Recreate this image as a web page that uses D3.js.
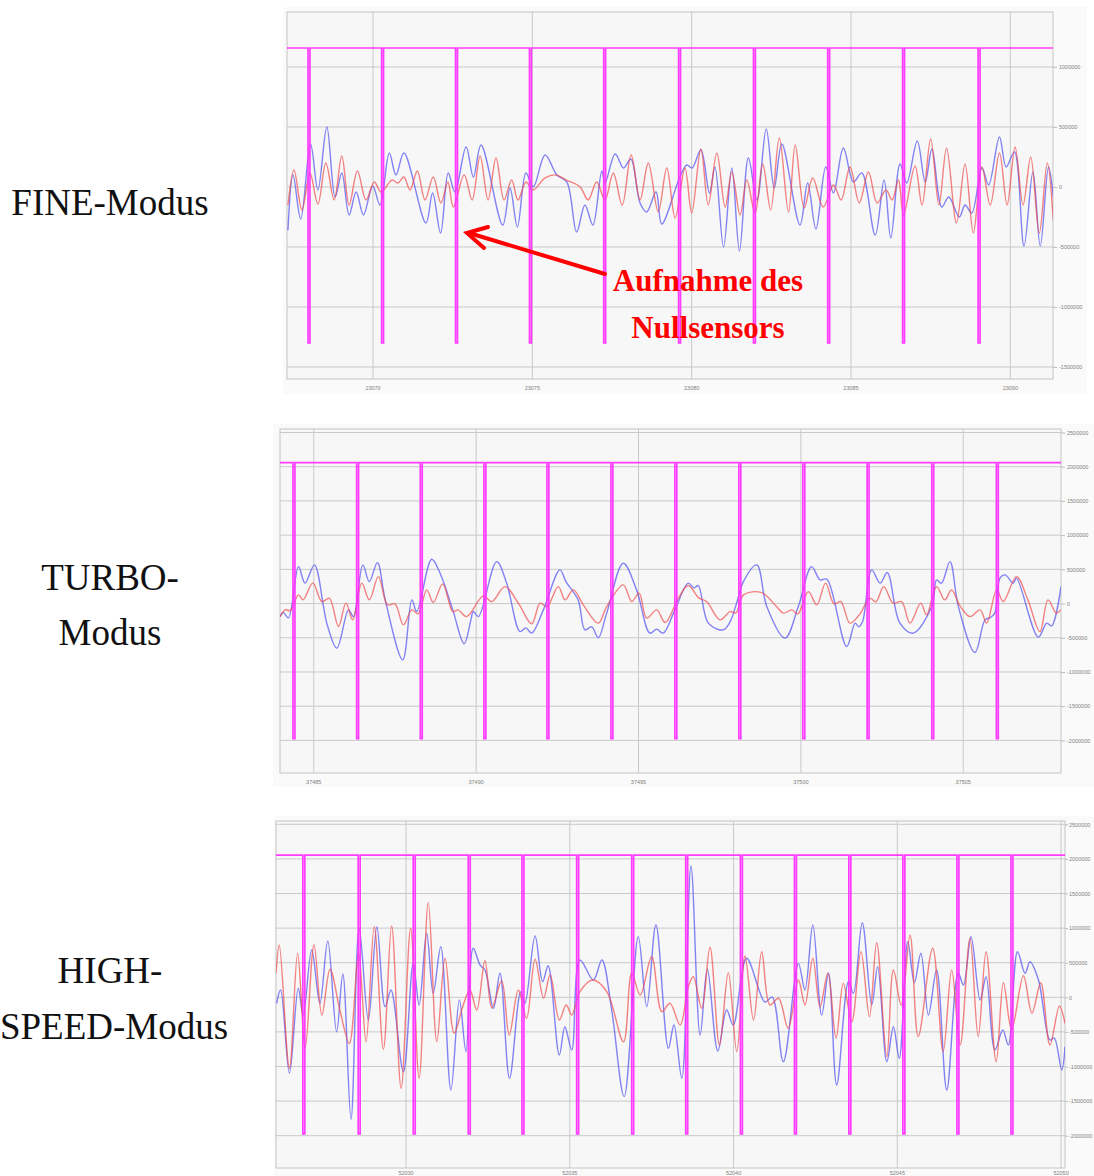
<!DOCTYPE html>
<html>
<head>
<meta charset="utf-8">
<script src="https://cdn.jsdelivr.net/npm/d3@7"></script>
<style>
  html, body { margin: 0; background: #fff; }
  svg { display: block; }
</style>
</head>
<body>
<div id="chart"></div>
<script>
// Oscilloscope captures of the zero sensor in three modes.
// Series are [seconds after t0, value / 1000]; pulses are the zero-sensor dips (seconds after t0).

const modeLabels = [['FINE-Modus'], ['TURBO-', 'Modus'], ['HIGH-', 'SPEED-Modus']];

// ---------- FINE ----------
const fineT0 = 23070;
const fineTicksX = [23070, 23075, 23080, 23085, 23090];
const fineTicksY = [-1500000, -1000000, -500000, 0, 500000, 1000000];
const finePulses = [-2.01, 0.30, 2.62, 4.94, 7.27, 9.62, 11.97, 14.30, 16.65, 19.02];
const fineLevels = [1158, -1300];
const fineBlue = [[-2.67,-360],[-2.51,100],[-2.27,-267],[-1.96,358],[-1.73,-25],[-1.45,500],[-1.19,-83],[-0.98,117],[-0.75,-233],[-0.53,-42],[-0.30,-233],[-0.01,8],[0.22,-150],[0.51,283],[0.72,100],[0.97,283],[1.66,-300],[1.87,-50],[2.12,-383],[2.36,117],[2.57,-42],[2.92,333],[3.15,83],[3.39,350],[4.07,-317],[4.30,-8],[4.53,-333],[4.80,117],[5.03,0],[5.40,267],[5.77,100],[6.08,42],[6.39,-375],[6.65,-150],[6.90,-317],[7.18,133],[7.28,33],[7.60,275],[7.86,158],[8.09,233],[8.38,-133],[8.59,-208],[8.88,-42],[9.06,-308],[9.63,83],[9.85,183],[10.01,158],[10.29,308],[10.56,-50],[10.73,167],[11.00,-500],[11.26,158],[11.50,-533],[11.78,242],[12.05,-108],[12.34,483],[12.59,-8],[12.83,358],[13.40,-317],[13.64,33],[13.90,-350],[14.21,167],[14.45,-50],[14.76,325],[15.08,42],[15.34,117],[15.76,-400],[16.04,58],[16.25,-425],[16.54,192],[16.75,33],[17.08,383],[17.33,42],[17.54,317],[17.85,-167],[18.07,-83],[18.40,-250],[18.58,-150],[18.79,-217],[19.11,158],[19.32,17],[19.66,417],[19.87,167],[20.13,292],[20.43,-492],[20.71,125],[20.94,-492],[21.20,167],[21.35,-83]];
const fineRed = [[-2.67,-150],[-2.48,142],[-2.23,-192],[-1.98,117],[-1.73,-142],[-1.48,200],[-1.22,-108],[-0.98,258],[-0.75,-150],[-0.49,133],[-0.22,-108],[0.04,42],[0.25,-42],[0.60,58],[0.78,33],[0.97,83],[1.16,-25],[1.39,133],[1.63,-108],[1.89,83],[2.13,-133],[2.35,42],[2.52,-167],[2.86,100],[3.11,-108],[3.36,258],[3.61,-108],[3.86,242],[4.11,-108],[4.35,58],[4.55,-108],[4.80,42],[5.02,-25],[5.40,75],[5.74,100],[6.06,58],[6.50,0],[6.75,-108],[7.02,42],[7.28,-108],[7.54,117],[7.82,-150],[8.10,267],[8.38,-108],[8.64,200],[8.95,-208],[9.22,158],[9.48,-258],[9.79,158],[10.00,-217],[10.29,317],[10.52,-150],[10.79,283],[11.05,-167],[11.26,125],[11.52,-233],[11.73,58],[11.99,-217],[12.23,192],[12.48,-192],[12.75,408],[13.04,-208],[13.25,350],[13.53,-175],[13.80,75],[14.13,-167],[14.45,17],[14.69,-108],[14.97,167],[15.26,-133],[15.55,125],[15.82,-133],[16.10,-25],[16.29,-108],[16.49,58],[16.65,-233],[17.01,175],[17.23,-150],[17.50,400],[17.76,-150],[18.00,325],[18.31,-300],[18.58,192],[18.84,-383],[19.11,167],[19.37,-150],[19.66,283],[19.90,-150],[20.15,333],[20.40,-150],[20.64,250],[20.91,-383],[21.16,200],[21.35,-275]];

// ---------- TURBO ----------
const turboT0 = 37485;
const turboTicksX = [37485, 37490, 37495, 37500, 37505];
const turboTicksY = [-2000000, -1500000, -1000000, -500000, 0, 500000, 1000000, 1500000, 2000000, 2500000];
const turboPulses = [-0.61, 1.35, 3.31, 5.27, 7.21, 9.18, 11.15, 13.12, 15.09, 17.07, 19.06, 21.05];
const turboLevels = [2060, -1975];
const turboBlue = [[-1.04,-190],[-0.94,-131],[-0.78,-209],[-0.47,540],[-0.27,298],[0.02,565],[0.30,-44],[0.40,-286],[0.71,-651],[1.07,-92],[1.22,-190],[1.51,565],[1.71,321],[1.96,599],[2.20,54],[2.74,-822],[3.02,54],[3.17,-117],[3.63,648],[3.89,444],[4.28,-92],[4.63,-588],[4.84,-238],[4.91,-117],[5.07,-190],[5.63,613],[5.94,298],[6.35,-409],[6.53,-355],[6.71,-432],[7.07,-92],[7.58,492],[7.77,317],[8.14,54],[8.35,-384],[8.56,-340],[8.76,-501],[9.02,-140],[9.53,590],[9.94,200],[10.35,-432],[10.56,-374],[10.76,-432],[11.12,-92],[11.53,298],[11.71,229],[11.84,263],[12.15,-286],[12.61,-384],[12.82,-267],[13.02,6],[13.23,321],[13.64,565],[13.95,-44],[14.51,-505],[14.92,-44],[15.33,540],[15.59,346],[15.80,356],[16.41,-628],[16.67,-286],[16.78,-340],[16.90,-263],[17.18,492],[17.44,298],[17.66,453],[18.05,-286],[18.46,-432],[19.03,-44],[19.18,346],[19.33,298],[19.59,613],[19.85,-44],[20.36,-715],[20.67,-238],[20.82,-209],[20.97,-140],[21.13,371],[21.29,419],[21.54,298],[21.64,371],[22.31,-491],[22.57,-286],[22.72,-326],[23.01,248]];
const turboRed = [[-1.04,-190],[-0.88,-92],[-0.73,-102],[-0.47,127],[-0.33,54],[-0.03,298],[0.25,29],[0.48,79],[0.76,-336],[0.99,6],[1.20,-238],[1.48,298],[1.71,54],[1.99,394],[2.27,-19],[2.50,-4],[2.76,-311],[3.02,-92],[3.21,-150],[3.48,200],[3.68,15],[3.97,288],[4.28,-117],[4.44,-92],[4.71,-190],[5.22,112],[5.48,29],[5.89,248],[6.30,6],[6.71,-296],[6.97,6],[7.18,-48],[7.53,248],[7.74,54],[7.99,200],[8.32,-34],[8.76,-286],[9.02,-44],[9.53,273],[9.79,29],[10.02,152],[10.25,-213],[10.56,-92],[10.82,-277],[11.23,79],[11.53,263],[11.86,83],[12.10,29],[12.51,-238],[12.82,-117],[13.00,-136],[13.23,127],[13.79,161],[14.25,-44],[14.46,-140],[14.72,-92],[14.91,-150],[15.23,175],[15.49,-19],[15.76,298],[16.02,-4],[16.23,29],[16.51,-286],[16.82,-150],[17.12,79],[17.31,25],[17.55,248],[17.84,6],[18.10,29],[18.36,-286],[18.69,6],[18.87,-165],[19.18,248],[19.43,54],[19.64,200],[19.90,-34],[20.21,-190],[20.52,-92],[20.72,-286],[21.03,200],[21.23,29],[21.64,394],[21.99,54],[22.36,-409],[22.61,54],[22.87,-140],[23.00,-92]];

// ---------- HIGH-SPEED ----------
const hsT0 = 52030;
const hsTicksX = [52030, 52035, 52040, 52045, 52050];
const hsTicksY = [-2000000, -1500000, -1000000, -500000, 0, 500000, 1000000, 1500000, 2000000, 2500000];
const hsPulses = [-3.12, -1.43, 0.25, 1.93, 3.57, 5.24, 6.92, 8.57, 10.24, 11.89, 13.55, 15.20, 16.85, 18.50];
const hsLevels = [2056, -1975];
const hsBlue = [[-3.95,-87],[-3.83,105],[-3.56,-1098],[-3.29,130],[-3.14,-256],[-2.88,683],[-2.63,-87],[-2.39,814],[-2.12,-497],[-1.93,337],[-1.68,-1763],[-1.43,997],[-1.15,-328],[-0.89,1020],[-0.64,-136],[-0.46,105],[-0.08,-1075],[0.22,491],[0.40,-111],[0.63,925],[0.83,58],[1.06,731],[1.37,-1340],[1.63,-39],[1.83,-786],[2.05,708],[2.26,467],[2.41,394],[2.67,-159],[2.87,347],[3.16,-1170],[3.50,81],[3.63,-87],[3.94,886],[4.17,225],[4.34,457],[4.68,-834],[4.85,-425],[5.06,-762],[5.31,539],[5.72,250],[5.98,539],[6.28,-184],[6.66,-1436],[7.09,876],[7.35,-136],[7.63,1045],[8.01,-737],[8.18,-400],[8.42,-1170],[8.70,1898],[8.98,-545],[9.20,405],[9.52,-776],[9.79,-184],[9.99,-400],[10.40,564],[10.96,-68],[11.18,4],[11.52,-931],[11.98,491],[12.18,105],[12.42,1045],[12.69,-256],[12.90,347],[13.15,-1267],[13.51,225],[13.66,58],[13.93,1078],[14.22,-111],[14.40,442],[14.68,-931],[14.88,-425],[15.06,-881],[15.32,803],[15.52,211],[15.72,636],[15.95,-256],[16.20,394],[16.51,-1340],[16.86,347],[17.02,178],[17.25,876],[17.53,-39],[17.71,298],[17.98,-762],[18.22,-473],[18.39,-689],[18.67,659],[18.90,347],[19.05,514],[19.31,250],[19.66,-617],[19.79,-588],[20.02,-1051],[20.12,-714]];
const hsRed = [[-3.97,347],[-3.87,756],[-3.56,-1026],[-3.31,636],[-3.08,-737],[-2.81,756],[-2.57,-256],[-2.32,405],[-2.02,-184],[-1.73,-665],[-1.45,644],[-1.22,-642],[-0.97,1020],[-0.69,-751],[-0.44,1030],[-0.15,-1315],[0.14,997],[0.40,-1170],[0.68,1367],[0.94,-642],[1.19,564],[1.47,-520],[1.73,-136],[1.95,105],[2.16,-184],[2.41,529],[2.62,-155],[2.92,240],[3.15,-545],[3.43,105],[3.68,-303],[3.94,549],[4.20,-14],[4.40,322],[4.68,-328],[4.89,-111],[5.06,-256],[5.31,81],[5.70,250],[6.13,81],[6.64,-642],[6.89,347],[7.15,33],[7.50,587],[7.81,-208],[8.06,-87],[8.37,-400],[8.62,153],[8.77,298],[9.03,-159],[9.28,723],[9.57,-689],[9.84,355],[10.10,-786],[10.35,597],[10.61,-328],[10.86,659],[11.11,-111],[11.37,-14],[11.67,-448],[11.98,250],[12.18,-111],[12.42,564],[12.64,-136],[12.88,347],[13.13,-592],[13.35,202],[13.61,-353],[13.89,659],[14.15,-280],[14.37,789],[14.68,-858],[14.88,394],[15.12,-111],[15.39,900],[15.64,-569],[16.08,708],[16.40,-786],[16.66,394],[16.92,-689],[17.22,853],[17.47,-569],[17.71,659],[18.02,-931],[18.24,211],[18.49,-473],[18.85,312],[19.11,-231],[19.38,211],[19.66,-689],[19.95,-126],[20.12,-376]];

const PULSE_WIDTH = 0.06;

const svg = d3.select('#chart').append('svg')
    .attr('width', 1094)
    .attr('height', 1176)
    .attr('viewBox', [0, 0, 1094, 1176]);

svg.append('rect').attr('width', 1094).attr('height', 1176).attr('fill', '#fff');

const panels = [
    { id: 'fine', t0: fineT0, ticksX: fineTicksX, ticksY: fineTicksY, pulses: finePulses, levels: fineLevels,
      blue: fineBlue, red: fineRed,
      frame: [283, 7, 1087, 394], plot: { left: 287, right: 1053, top: 12, bottom: 379 },
      xDomain: [-2.70, 21.34], yDomain: [-1600000, 1458000], xLabelDy: 11, tickSize: 4, tickPad: 2 },
    { id: 'turbo', t0: turboT0, ticksX: turboTicksX, ticksY: turboTicksY, pulses: turboPulses, levels: turboLevels,
      blue: turboBlue, red: turboRed,
      frame: [273, 424, 1094, 787], plot: { left: 280, right: 1061, top: 429, bottom: 773 },
      xDomain: [-1.04, 23.01], yDomain: [-2476000, 2551000], xLabelDy: 11, tickSize: 4, tickPad: 2 },
    { id: 'hs', t0: hsT0, ticksX: hsTicksX, ticksY: hsTicksY, pulses: hsPulses, levels: hsLevels,
      blue: hsBlue, red: hsRed,
      frame: [274, 816, 1094, 1190], plot: { left: 276, right: 1065, top: 821, bottom: 1168 },
      xDomain: [-3.97, 20.12], yDomain: [-2467000, 2548000], xLabelDy: 7, tickSize: 3, tickPad: 1 },
];

const TICK_FONT = 'Liberation Sans, Arial, sans-serif';

function drawPanel(p) {
    const g = svg.append('g').attr('class', `panel-${p.id}`);
    const { left, right, top, bottom } = p.plot;

    // screenshot background
    g.append('rect')
        .attr('x', p.frame[0]).attr('y', p.frame[1])
        .attr('width', p.frame[2] - p.frame[0]).attr('height', p.frame[3] - p.frame[1])
        .attr('fill', '#fafafa');

    const x = d3.scaleLinear()
        .domain([p.t0 + p.xDomain[0], p.t0 + p.xDomain[1]])
        .range([left, right]);
    const y = d3.scaleLinear().domain(p.yDomain).range([bottom, top]);

    g.append('rect')
        .attr('x', left).attr('y', top)
        .attr('width', right - left).attr('height', bottom - top)
        .attr('fill', '#f7f7f7');

    // grid
    g.append('g').selectAll('line')
        .data(p.ticksX)
        .join('line')
        .attr('x1', d => x(d)).attr('x2', d => x(d))
        .attr('y1', top).attr('y2', bottom)
        .attr('stroke', '#c9c9c9').attr('stroke-width', 1);
    g.append('g').selectAll('line')
        .data(p.ticksY)
        .join('line')
        .attr('x1', left).attr('x2', right)
        .attr('y1', d => y(d)).attr('y2', d => y(d))
        .attr('stroke', '#c9c9c9').attr('stroke-width', 1);

    g.append('rect')
        .attr('x', left).attr('y', top)
        .attr('width', right - left).attr('height', bottom - top)
        .attr('fill', 'none').attr('stroke', '#c4c4c4');

    // right axis
    const axis = g.append('g')
        .attr('transform', `translate(${right},0)`)
        .call(d3.axisRight(y).tickValues(p.ticksY).tickSize(p.tickSize).tickPadding(p.tickPad).tickFormat(d => String(d)));
    axis.select('.domain').remove();
    axis.selectAll('line').attr('stroke', '#bdbdbd');
    axis.selectAll('text')
        .attr('fill', '#808080')
        .attr('font-size', '5.5px')
        .attr('font-family', TICK_FONT);

    // bottom labels
    g.append('g').selectAll('text')
        .data(p.ticksX)
        .join('text')
        .attr('x', d => x(d))
        .attr('y', bottom + p.xLabelDy)
        .attr('text-anchor', 'middle')
        .attr('fill', '#808080')
        .attr('font-size', '5.5px')
        .attr('font-family', TICK_FONT)
        .text(d => String(d));

    // clip
    const clipId = `clip-${p.id}`;
    svg.append('defs').append('clipPath').attr('id', clipId)
        .append('rect').attr('x', left).attr('y', top)
        .attr('width', right - left).attr('height', bottom - top);

    const plotG = g.append('g').attr('clip-path', `url(#${clipId})`);

    const line = d3.line()
        .x(d => x(p.t0 + d[0]))
        .y(d => y(d[1] * 1000))
        .curve(d3.curveCatmullRom.alpha(0.5));

    plotG.append('path').datum(p.blue)
        .attr('d', line)
        .attr('fill', 'none')
        .attr('stroke', '#5454f2')
        .attr('stroke-opacity', 0.72)
        .attr('stroke-width', 1.4);

    plotG.append('path').datum(p.red)
        .attr('d', line)
        .attr('fill', 'none')
        .attr('stroke', '#f04848')
        .attr('stroke-opacity', 0.68)
        .attr('stroke-width', 1.4);

    // zero-sensor square wave
    const [hi, lo] = p.levels;
    const pts = [[p.xDomain[0], hi]];
    for (const c of p.pulses) {
        pts.push([c - PULSE_WIDTH / 2, hi], [c - PULSE_WIDTH / 2, lo], [c + PULSE_WIDTH / 2, lo], [c + PULSE_WIDTH / 2, hi]);
    }
    pts.push([p.xDomain[1], hi]);

    plotG.append('path').datum(pts)
        .attr('d', d3.line().x(d => x(p.t0 + d[0])).y(d => y(d[1] * 1000)))
        .attr('fill', 'none')
        .attr('stroke', '#ff2cff')
        .attr('stroke-opacity', 0.92)
        .attr('stroke-width', 1.7);
}

panels.forEach(drawPanel);

// mode labels on the left
const labelRows = [[215], [590, 645], [983, 1039]];
const labelCx = [[110], [110, 110], [110, 114]];
modeLabels.forEach((lines, i) => {
    lines.forEach((txt, j) => {
        svg.append('text')
            .attr('x', labelCx[i][j])
            .attr('y', labelRows[i][j])
            .attr('text-anchor', 'middle')
            .attr('font-family', 'Liberation Serif, serif')
            .attr('font-size', '37px')
            .attr('fill', '#111')
            .text(txt);
    });
});

// annotation
const note = svg.append('g');
note.append('line')
    .attr('x1', 605).attr('y1', 274)
    .attr('x2', 469).attr('y2', 233)
    .attr('stroke', '#ff0000').attr('stroke-width', 4).attr('stroke-linecap', 'round');
note.append('polyline')
    .attr('points', '488,227 467,233 484,248')
    .attr('fill', 'none')
    .attr('stroke', '#ff0000').attr('stroke-width', 4)
    .attr('stroke-linecap', 'round').attr('stroke-linejoin', 'miter');
[['Aufnahme des', 291], ['Nullsensors', 338]].forEach(([t, yy]) => {
    note.append('text')
        .attr('x', 708).attr('y', yy)
        .attr('text-anchor', 'middle')
        .attr('font-family', 'Liberation Serif, serif')
        .attr('font-weight', 'bold')
        .attr('font-size', '31px')
        .attr('fill', '#ff0000')
        .text(t);
});
</script>
</body>
</html>
